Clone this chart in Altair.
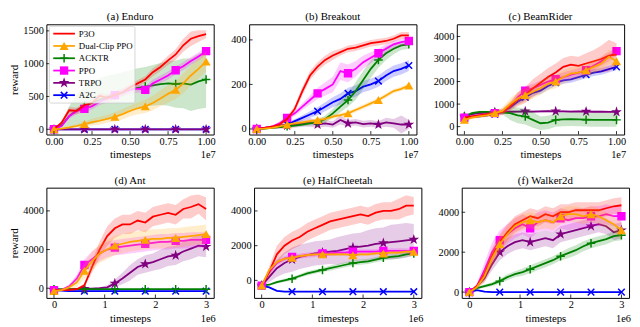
import altair as alt
import pandas as pd

FONT = "Liberation Serif"
NAMES = ["P3O", "Dual-Clip PPO", "ACKTR", "PPO", "TRPO", "A2C"]
COLORS = ["#ff0000", "#ffa500", "#008000", "#ff00ff", "#800080", "#0000ff"]
DRAW_ORDER = ["A2C", "TRPO", "ACKTR", "PPO", "P3O", "Dual-Clip PPO"]
MARKER_IDX = [0, 4, 8, 12, 16, 20]

atari_x = [0.0, 0.05, 0.1, 0.15, 0.2, 0.25, 0.3, 0.35, 0.4, 0.45, 0.5,
           0.55, 0.6, 0.65, 0.7, 0.75, 0.8, 0.85, 0.9, 0.95, 1.0]
mujoco_x = [0.0, 0.15, 0.3, 0.45, 0.6, 0.75, 0.9, 1.05, 1.2, 1.35, 1.5,
            1.65, 1.8, 1.95, 2.1, 2.25, 2.4, 2.55, 2.7, 2.85, 3.0]

# ---------------- (a) Enduro ----------------
enduro_p3o = [0, 100, 290, 280, 370, 400, 510, 480, 520, 560, 640, 700, 760, 870, 950, 1050, 1140, 1280, 1380, 1420, 1450]
enduro_p3o_sd = [0, 30, 50, 50, 50, 50, 50, 50, 50, 50, 50, 50, 50, 60, 60, 70, 80, 100, 110, 90, 60]
enduro_dual = [0, 10, 30, 50, 80, 110, 130, 160, 190, 230, 280, 320, 350, 400, 470, 540, 600, 700, 820, 920, 1030]
enduro_dual_sd = [0, 10, 20, 30, 40, 50, 60, 60, 70, 80, 80, 90, 100, 110, 120, 130, 140, 150, 150, 150, 150]
enduro_acktr = [0, 60, 200, 290, 360, 400, 450, 490, 520, 560, 600, 630, 650, 670, 690, 700, 690, 700, 680, 730, 760]
enduro_acktr_sd = [0, 40, 150, 250, 300, 320, 330, 330, 320, 310, 300, 300, 300, 310, 320, 340, 360, 380, 400, 420, 430]
enduro_ppo = [0, 50, 200, 280, 310, 350, 420, 470, 520, 560, 600, 620, 600, 700, 760, 820, 900, 960, 1040, 1110, 1190]
enduro_ppo_sd = [0, 20, 40, 50, 50, 50, 50, 60, 60, 60, 60, 60, 60, 60, 60, 60, 60, 60, 60, 60, 50]
enduro_trpo = [0, 0, 0, 0, 0, 0, 0, 0, 0, 0, 0, 0, 0, 0, 0, 0, 0, 0, 0, 0, 0]
enduro_trpo_sd = [5, 5, 5, 5, 5, 5, 5, 5, 5, 5, 5, 5, 5, 5, 5, 5, 5, 5, 5, 5, 5]
enduro_a2c = [0, 0, 0, 0, 0, 0, 0, 0, 0, 0, 0, 0, 0, 0, 0, 0, 0, 0, 0, 0, 0]
enduro_a2c_sd = [5, 5, 5, 5, 5, 5, 5, 5, 5, 5, 5, 5, 5, 5, 5, 5, 5, 5, 5, 5, 5]

# ---------------- (b) Breakout ----------------
breakout_p3o = [0, 5, 10, 20, 45, 90, 170, 240, 280, 310, 330, 345, 360, 365, 375, 385, 390, 395, 405, 420, 420]
breakout_p3o_sd = [3, 3, 5, 8, 10, 15, 20, 20, 20, 20, 20, 15, 15, 15, 15, 15, 15, 15, 15, 15, 15]
breakout_dual = [0, 2, 5, 12, 20, 25, 30, 35, 40, 45, 55, 62, 70, 85, 100, 115, 130, 150, 170, 180, 195]
breakout_dual_sd = [2, 2, 3, 4, 5, 6, 7, 8, 9, 10, 10, 10, 10, 10, 10, 10, 10, 10, 10, 10, 10]
breakout_acktr = [0, 2, 5, 8, 12, 15, 20, 25, 30, 45, 70, 100, 130, 170, 220, 270, 310, 340, 360, 375, 380]
breakout_acktr_sd = [2, 2, 3, 4, 5, 6, 8, 10, 12, 15, 20, 25, 30, 40, 40, 40, 35, 30, 25, 20, 20]
breakout_ppo = [0, 5, 10, 25, 50, 70, 100, 130, 160, 180, 200, 260, 250, 270, 300, 320, 340, 360, 380, 390, 395]
breakout_ppo_sd = [3, 3, 5, 8, 10, 12, 15, 20, 25, 30, 35, 40, 40, 35, 30, 25, 20, 20, 15, 15, 15]
breakout_trpo = [0, 5, 8, 10, 15, 20, 25, 30, 20, 25, 20, 40, 25, 30, 22, 25, 20, 30, 25, 20, 20]
breakout_trpo_sd = [3, 5, 8, 10, 12, 15, 15, 20, 15, 15, 15, 20, 15, 15, 15, 15, 15, 20, 20, 40, 20]
breakout_a2c = [0, 3, 8, 14, 20, 35, 50, 65, 80, 100, 120, 135, 160, 170, 190, 200, 215, 240, 260, 270, 285]
breakout_a2c_sd = [3, 3, 5, 6, 8, 10, 12, 15, 18, 20, 22, 25, 25, 25, 25, 25, 25, 25, 25, 25, 25]

# ---------------- (c) BeamRider ----------------
beam_p3o = [400, 450, 500, 550, 600, 650, 900, 1200, 1400, 1700, 1950, 2200, 2400, 2650, 2750, 2700, 2800, 2900, 3000, 3150, 3200]
beam_p3o_sd = [50, 60, 70, 80, 100, 150, 200, 300, 350, 400, 400, 400, 400, 400, 400, 400, 450, 500, 600, 700, 500]
beam_dual = [300, 400, 450, 500, 600, 700, 1000, 1250, 1400, 1550, 1700, 1900, 2000, 2200, 2350, 2400, 2500, 2650, 2800, 3100, 2900]
beam_dual_sd = [50, 60, 70, 80, 100, 150, 250, 300, 300, 300, 300, 300, 300, 300, 300, 300, 300, 300, 300, 300, 300]
beam_acktr = [450, 600, 650, 650, 620, 620, 600, 500, 450, 300, 150, 180, 300, 320, 330, 320, 310, 300, 300, 300, 300]
beam_acktr_sd = [50, 60, 60, 60, 60, 80, 300, 350, 350, 350, 300, 300, 300, 300, 300, 300, 300, 300, 300, 300, 300]
beam_ppo = [400, 450, 500, 550, 600, 650, 900, 1300, 1600, 1700, 1850, 2000, 2100, 2200, 2300, 2400, 2500, 2700, 2900, 3100, 3350]
beam_ppo_sd = [50, 60, 70, 80, 100, 120, 150, 200, 200, 200, 200, 200, 200, 200, 200, 200, 200, 200, 200, 200, 200]
beam_trpo = [450, 550, 600, 620, 640, 650, 660, 670, 680, 670, 680, 690, 680, 680, 670, 680, 670, 660, 660, 650, 650]
beam_trpo_sd = [50, 50, 50, 50, 50, 50, 50, 50, 50, 50, 50, 50, 50, 50, 50, 50, 50, 50, 50, 50, 50]
beam_a2c = [350, 420, 450, 500, 550, 650, 850, 1100, 1300, 1500, 1600, 1800, 1950, 2050, 2100, 2200, 2300, 2400, 2450, 2550, 2650]
beam_a2c_sd = [50, 50, 60, 60, 70, 80, 100, 120, 150, 150, 150, 150, 150, 150, 150, 150, 150, 150, 150, 150, 150]

# ---------------- (d) Ant ----------------
ant_p3o = [-100, -100, -80, -50, 150, 1100, 2000, 2700, 3100, 3300, 3300, 3500, 3400, 3700, 3800, 3900, 3800, 4100, 4200, 4350, 4100]
ant_p3o_sd = [30, 30, 40, 50, 100, 300, 400, 500, 500, 500, 500, 500, 500, 500, 500, 500, 500, 500, 600, 500, 600]
ant_dual = [-150, -100, 50, 300, 900, 1400, 1800, 2000, 2200, 2300, 2400, 2450, 2500, 2550, 2550, 2600, 2600, 2650, 2700, 2750, 2800]
ant_dual_sd = [30, 40, 100, 250, 400, 500, 500, 500, 500, 500, 500, 500, 500, 500, 500, 500, 500, 500, 500, 500, 500]
ant_acktr = [-50, -50, -50, -50, -50, -50, -50, -50, -50, -50, -50, -50, -50, -50, -50, -50, -50, -50, -50, -50, -50]
ant_acktr_sd = [30, 30, 30, 30, 30, 30, 30, 30, 30, 30, 30, 30, 30, 30, 30, 30, 30, 30, 30, 30, 30]
ant_ppo = [-100, -80, 100, 500, 1200, 1500, 1800, 2000, 2100, 2150, 2200, 2250, 2300, 2350, 2400, 2400, 2450, 2450, 2500, 2500, 2500]
ant_ppo_sd = [30, 40, 100, 200, 300, 400, 400, 400, 400, 400, 400, 400, 400, 400, 400, 400, 400, 400, 400, 400, 400]
ant_trpo = [-100, -80, -50, -30, -20, -20, 0, 50, 250, 500, 800, 1100, 1250, 1350, 1500, 1650, 1700, 1900, 2050, 2200, 2150]
ant_trpo_sd = [30, 30, 30, 30, 30, 40, 50, 100, 200, 300, 400, 400, 450, 450, 500, 500, 500, 500, 550, 550, 550]
ant_a2c = [-100, -120, -150, -150, -150, -150, -150, -150, -150, -150, -150, -150, -150, -150, -150, -150, -150, -150, -150, -150, -150]
ant_a2c_sd = [40, 40, 40, 40, 40, 40, 40, 40, 40, 40, 40, 40, 40, 40, 40, 40, 40, 40, 40, 40, 40]

# ---------------- (e) HalfCheetah ----------------
hc_p3o = [-300, 500, 1500, 2000, 2300, 2500, 2800, 3000, 3200, 3400, 3500, 3600, 3700, 3800, 3700, 3900, 4000, 4000, 4100, 4300, 4300]
hc_p3o_sd = [50, 300, 500, 500, 500, 500, 500, 500, 500, 500, 500, 500, 500, 500, 500, 500, 500, 500, 600, 600, 500]
hc_dual = [-300, 600, 1050, 1250, 1300, 1400, 1450, 1500, 1500, 1500, 1500, 1500, 1450, 1500, 1500, 1550, 1550, 1600, 1600, 1650, 1650]
hc_dual_sd = [50, 100, 100, 100, 100, 100, 100, 100, 100, 100, 100, 100, 100, 100, 100, 100, 100, 100, 100, 100, 100]
hc_acktr = [-300, -250, -100, 0, 100, 250, 400, 500, 600, 700, 800, 900, 1000, 1050, 1100, 1200, 1300, 1350, 1400, 1500, 1550]
hc_acktr_sd = [50, 50, 80, 100, 100, 100, 120, 120, 120, 150, 150, 150, 150, 150, 150, 150, 150, 150, 150, 150, 150]
hc_ppo = [-300, 500, 1000, 1250, 1350, 1400, 1450, 1500, 1550, 1550, 1600, 1600, 1650, 1650, 1650, 1650, 1700, 1700, 1700, 1700, 1700]
hc_ppo_sd = [50, 150, 150, 150, 150, 150, 150, 150, 150, 150, 150, 150, 150, 150, 150, 150, 150, 150, 150, 150, 150]
hc_trpo = [-300, 200, 700, 1000, 1200, 1350, 1450, 1550, 1600, 1650, 1700, 1800, 1900, 1950, 2000, 2100, 2150, 2200, 2250, 2300, 2350]
hc_trpo_sd = [50, 300, 500, 600, 700, 700, 700, 700, 700, 700, 800, 800, 800, 800, 900, 900, 900, 1000, 1000, 1000, 900]
hc_a2c = [-300, -400, -600, -650, -650, -650, -650, -650, -650, -650, -650, -650, -650, -650, -650, -650, -650, -650, -650, -650, -650]
hc_a2c_sd = [30, 30, 30, 30, 30, 30, 30, 30, 30, 30, 30, 30, 30, 30, 30, 30, 30, 30, 30, 30, 30]

# ---------------- (f) Walker2d ----------------
wk_p3o = [0, 300, 900, 1800, 2500, 3000, 3400, 3600, 3800, 3700, 3900, 3800, 4000, 4000, 4100, 4100, 4100, 4100, 4200, 4300, 4350]
wk_p3o_sd = [30, 100, 300, 400, 400, 400, 400, 400, 400, 400, 400, 400, 400, 400, 400, 400, 400, 400, 400, 400, 400]
wk_dual = [0, 250, 800, 1700, 2400, 2900, 3300, 3500, 3600, 3500, 3600, 3500, 3800, 3900, 3900, 3800, 3900, 3800, 3600, 3400, 3100]
wk_dual_sd = [30, 100, 300, 400, 400, 400, 400, 400, 400, 400, 400, 400, 400, 400, 400, 400, 400, 400, 400, 400, 400]
wk_acktr = [0, 200, 300, 400, 550, 750, 900, 1000, 1150, 1300, 1450, 1600, 1800, 1950, 2100, 2300, 2450, 2550, 2650, 2800, 2850]
wk_acktr_sd = [30, 50, 80, 100, 120, 150, 150, 180, 200, 200, 200, 200, 200, 250, 250, 250, 250, 250, 250, 250, 250]
wk_ppo = [0, 300, 1100, 2000, 2600, 2900, 3200, 3400, 3200, 3500, 3600, 3500, 3700, 3600, 3700, 3700, 3800, 3800, 3900, 3800, 3800]
wk_ppo_sd = [30, 150, 400, 500, 500, 500, 500, 500, 500, 500, 500, 500, 500, 500, 500, 500, 500, 500, 500, 500, 500]
wk_trpo = [0, 300, 700, 1400, 2000, 2300, 2500, 2600, 2500, 2600, 2700, 2600, 2900, 3000, 3100, 3200, 3300, 3400, 3300, 3000, 3100]
wk_trpo_sd = [30, 100, 200, 300, 400, 400, 400, 400, 400, 400, 400, 400, 400, 400, 400, 400, 400, 400, 400, 400, 400]
wk_a2c = [0, 100, 20, 0, 0, 0, 0, 0, 0, 0, 0, 0, 0, 0, 0, 0, 0, 0, 0, 0, 0]
wk_a2c_sd = [30, 30, 30, 30, 30, 30, 30, 30, 30, 30, 30, 30, 30, 30, 30, 30, 30, 30, 30, 30, 30]

STAR = ("M0,-1L0.2245,-0.309L0.951,-0.309L0.363,0.118L0.588,0.809L0,0.382"
        "L-0.588,0.809L-0.363,0.118L-0.951,-0.309L-0.2245,-0.309Z")
MARKERS = {
    "Dual-Clip PPO": ("triangle-up", True, 85),
    "ACKTR": ("M-1,0H1M0,-1V1", False, 75),
    "PPO": ("square", True, 72),
    "TRPO": (STAR, True, 130),
    "A2C": ("M-1,-1L1,1M-1,1L1,-1", False, 45),
}
COLOR_OF = dict(zip(NAMES, COLORS))

W, H = 170, 112
TICK = 3.5


def panel(title, x, series, xdom, xticks, xfmt, ydom, yticks, offset_label,
          ytitle=None, legend=False):
    xscale = alt.Scale(domain=xdom, nice=False, zero=False)
    xaxis = alt.Axis(values=xticks, format=xfmt, title="timesteps",
                     ticks=False, labelPadding=2, titlePadding=2,
                     labelFontSize=10.5, titleFontSize=11,
                     labelOverlap=False, labelFlush=False)
    yscale = alt.Scale(domain=ydom, nice=False, zero=False)
    yaxis = alt.Axis(values=yticks, format="d", title=ytitle,
                     ticks=False, labelPadding=3, titlePadding=3,
                     labelFontSize=10.5, titleFontSize=11, labelOverlap=False)
    xenc = alt.X("x:Q", scale=xscale, axis=xaxis)
    layers = []
    for name in DRAW_ORDER:
        vals, sd = series[name]
        col = COLOR_OF[name]
        df = pd.DataFrame({
            "x": x, "y": vals,
            "lo": [v - s for v, s in zip(vals, sd)],
            "hi": [v + s for v, s in zip(vals, sd)],
            "m": [i in MARKER_IDX for i in range(len(x))],
        })
        base = alt.Chart(df)
        layers.append(base.mark_area(color=col, opacity=0.2, clip=True).encode(
            x=xenc, y=alt.Y("lo:Q", scale=yscale, axis=yaxis), y2="hi:Q"))
        layers.append(base.mark_line(color=col, strokeWidth=1.8, clip=True).encode(
            x=xenc, y=alt.Y("y:Q", scale=yscale, axis=yaxis)))
        if name in MARKERS:
            shape, filled, size = MARKERS[name]
            layers.append(base.transform_filter("datum.m").mark_point(
                color=col, filled=filled, size=size, strokeWidth=1.5,
                opacity=1, clip=True).encode(
                x=xenc, y=alt.Y("y:Q", scale=yscale, axis=yaxis),
                shape=alt.value(shape)))
    # inward ticks
    layers.append(alt.Chart(pd.DataFrame({"x": xticks})).mark_rule(
        color="black", strokeWidth=0.8).encode(
        x=alt.X("x:Q", scale=xscale, axis=xaxis),
        y=alt.value(H), y2=alt.value(H - TICK)))
    layers.append(alt.Chart(pd.DataFrame({"y": yticks})).mark_rule(
        color="black", strokeWidth=0.8).encode(
        y=alt.Y("y:Q", scale=yscale, axis=yaxis),
        x=alt.value(0), x2=alt.value(TICK)))
    # offset label (1e7 / 1e6)
    layers.append(alt.Chart(pd.DataFrame({"t": [offset_label]})).mark_text(
        align="right", baseline="middle", fontSize=10.5, font=FONT, color="black"
    ).encode(x=alt.value(W + 2), y=alt.value(H + 21), text="t:N"))
    if legend:
        layers.append(alt.Chart(pd.DataFrame({"t": [""]})).mark_rect(
            fill="white", fillOpacity=0.8, stroke="#cccccc", strokeWidth=0.8,
            cornerRadius=2).encode(x=alt.value(3), x2=alt.value(90),
                                   y=alt.value(2), y2=alt.value(80)))
        for i, name in enumerate(NAMES):
            yy = 9.5 + 12.5 * i
            col = COLOR_OF[name]
            ldf = alt.Chart(pd.DataFrame({"t": [name]}))
            layers.append(ldf.mark_rule(color=col, strokeWidth=1.8).encode(
                x=alt.value(7), x2=alt.value(29), y=alt.value(yy)))
            if name in MARKERS:
                shape, filled, size = MARKERS[name]
                layers.append(ldf.mark_point(color=col, filled=filled, size=size,
                                             strokeWidth=1.5, opacity=1).encode(
                    x=alt.value(18), y=alt.value(yy), shape=alt.value(shape)))
            layers.append(ldf.mark_text(align="left", baseline="middle",
                                        fontSize=9, font=FONT, color="black").encode(
                x=alt.value(33), y=alt.value(yy), text="t:N"))
    return alt.layer(*layers).properties(
        width=W, height=H,
        title=alt.TitleParams(title, fontSize=11, fontWeight="normal", font=FONT,
                              offset=2, color="black"))


def S(p, d, a, pp, t, c):
    return {"P3O": p, "Dual-Clip PPO": d, "ACKTR": a, "PPO": pp, "TRPO": t, "A2C": c}


atari_ticks = [0.0, 0.25, 0.5, 0.75, 1.0]
mujoco_ticks = [0, 1, 2, 3]

pa = panel("(a) Enduro", atari_x,
           S((enduro_p3o, enduro_p3o_sd), (enduro_dual, enduro_dual_sd),
             (enduro_acktr, enduro_acktr_sd), (enduro_ppo, enduro_ppo_sd),
             (enduro_trpo, enduro_trpo_sd), (enduro_a2c, enduro_a2c_sd)),
           [-0.05, 1.05], atari_ticks, ".2f", [-80, 1600], [0, 500, 1000, 1500],
           "1e7", ytitle="reward", legend=True)
pb = panel("(b) Breakout", atari_x,
           S((breakout_p3o, breakout_p3o_sd), (breakout_dual, breakout_dual_sd),
             (breakout_acktr, breakout_acktr_sd), (breakout_ppo, breakout_ppo_sd),
             (breakout_trpo, breakout_trpo_sd), (breakout_a2c, breakout_a2c_sd)),
           [-0.05, 1.05], atari_ticks, ".2f", [-25, 470], [0, 200, 400], "1e7")
pc = panel("(c) BeamRider", atari_x,
           S((beam_p3o, beam_p3o_sd), (beam_dual, beam_dual_sd),
             (beam_acktr, beam_acktr_sd), (beam_ppo, beam_ppo_sd),
             (beam_trpo, beam_trpo_sd), (beam_a2c, beam_a2c_sd)),
           [-0.05, 1.05], atari_ticks, ".2f", [-350, 4540],
           [0, 1000, 2000, 3000, 4000], "1e7")
pd_ = panel("(d) Ant", mujoco_x,
            S((ant_p3o, ant_p3o_sd), (ant_dual, ant_dual_sd),
              (ant_acktr, ant_acktr_sd), (ant_ppo, ant_ppo_sd),
              (ant_trpo, ant_trpo_sd), (ant_a2c, ant_a2c_sd)),
            [-0.15, 3.15], mujoco_ticks, "d", [-500, 5200], [0, 2000, 4000],
            "1e6", ytitle="reward")
pe = panel("(e) HalfCheetah", mujoco_x,
           S((hc_p3o, hc_p3o_sd), (hc_dual, hc_dual_sd),
             (hc_acktr, hc_acktr_sd), (hc_ppo, hc_ppo_sd),
             (hc_trpo, hc_trpo_sd), (hc_a2c, hc_a2c_sd)),
           [-0.15, 3.15], mujoco_ticks, "d", [-1010, 5340], [0, 2000, 4000], "1e6")
pf = panel("(f) Walker2d", mujoco_x,
           S((wk_p3o, wk_p3o_sd), (wk_dual, wk_dual_sd),
             (wk_acktr, wk_acktr_sd), (wk_ppo, wk_ppo_sd),
             (wk_trpo, wk_trpo_sd), (wk_a2c, wk_a2c_sd)),
           [-0.15, 3.15], mujoco_ticks, "d", [-290, 5230], [0, 2000, 4000], "1e6")

row1 = alt.hconcat(pa, pb, pc, spacing=13)
row2 = alt.hconcat(pd_, pe, pf, spacing=13)
chart = alt.vconcat(row1, row2, spacing=13).properties(
    padding={"left": 0, "top": 0, "right": 0, "bottom": 0}
).configure(font=FONT).configure_view(
    stroke="black", strokeWidth=1
).configure_axis(
    grid=False, domain=False, tickColor="black", labelColor="black",
    titleColor="black", labelFont=FONT, titleFont=FONT, titleFontWeight="normal"
)

chart.save("out.html", embed_options={"renderer": "svg", "actions": False})
